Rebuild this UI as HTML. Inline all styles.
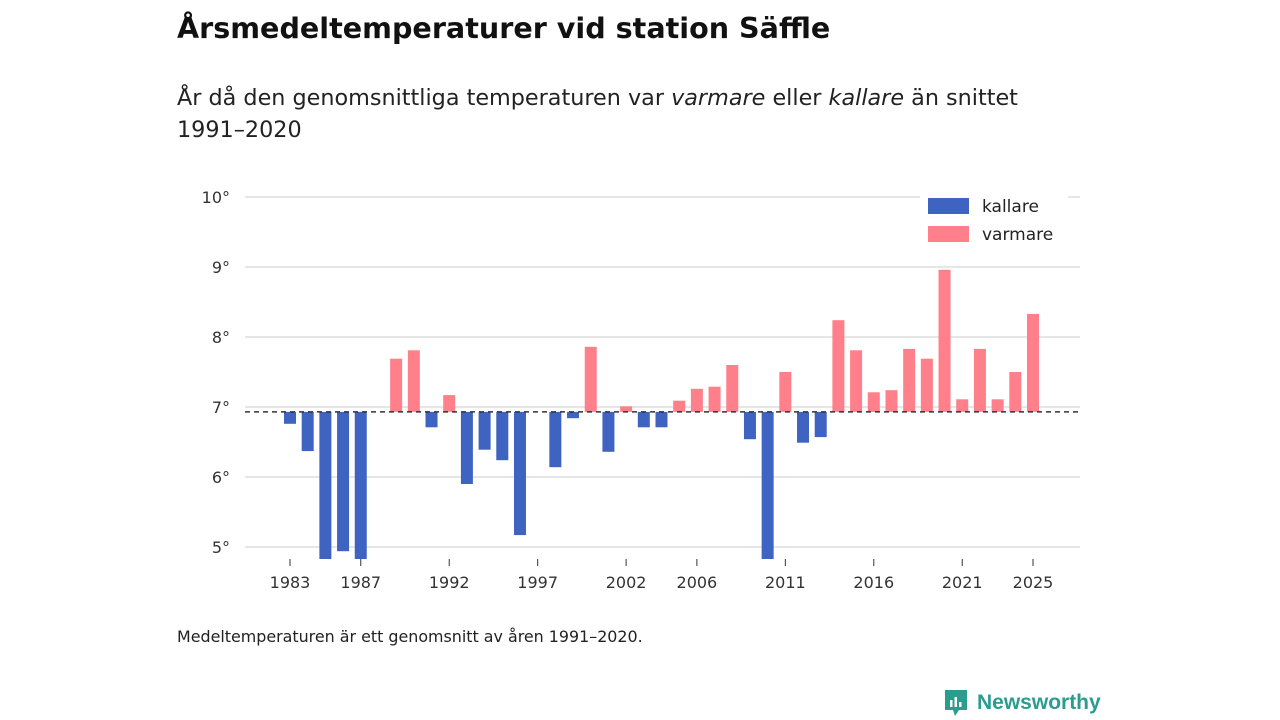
<!DOCTYPE html>
<html><head><meta charset="utf-8">
<style>
body{margin:0;width:1280px;height:720px;background:#fff;font-family:"DejaVu Sans","Liberation Sans",sans-serif;overflow:hidden;position:relative}
h1{position:absolute;left:177px;top:11px;margin:0;font-size:28.6px;font-weight:bold;color:#111}
.sub{position:absolute;left:177px;top:82px;font-size:22.3px;line-height:32px;color:#222;width:870px}
.note{position:absolute;left:177px;top:627px;font-size:15.9px;color:#222}
.logo{position:absolute;left:943px;top:688px;font-size:21px;font-weight:bold;color:#2a9d8f;display:flex;align-items:center;gap:8px;font-family:"Liberation Sans",sans-serif}
</style></head><body>
<h1>Årsmedeltemperaturer vid station Säffle</h1>
<div class="sub">År då den genomsnittliga temperaturen var <i>varmare</i> eller <i>kallare</i> än snittet 1991–2020</div>
<svg id="chart" width="1280" height="720" style="position:absolute;left:0;top:0;font-family:'DejaVu Sans',sans-serif"></svg>
<div class="note">Medeltemperaturen är ett genomsnitt av åren 1991–2020.</div>
<div class="logo"><svg width="26" height="30" viewBox="0 0 26 30"><path d="M2 2h22v20h-8l-4 6-2-6H2z" fill="#2a9d8f"/><rect x="7" y="12" width="2.5" height="7" fill="#fff"/><rect x="11.5" y="9" width="2.5" height="10" fill="#fff"/><rect x="16" y="14" width="2.5" height="5" fill="#fff"/></svg>Newsworthy</div>
<script>
const years=[1983,1984,1985,1986,1987,1988,1989,1990,1991,1992,1993,1994,1995,1996,1997,1998,1999,2000,2001,2002,2003,2004,2005,2006,2007,2008,2009,2010,2011,2012,2013,2014,2015,2016,2017,2018,2019,2020,2021,2022,2023,2024,2025];
const temps=[6.76,6.37,4.8,4.94,4.8,6.93,7.69,7.81,6.71,7.17,5.9,6.39,6.24,5.17,6.93,6.14,6.84,7.86,6.36,7.01,6.71,6.71,7.09,7.26,7.29,7.6,6.54,4.8,7.5,6.49,6.57,8.24,7.81,7.21,7.24,7.83,7.69,8.96,7.11,7.83,7.11,7.5,8.33];
const mean=6.93;
const yTicks=[5,6,7,8,9,10];
const xTicks=[1983,1987,1992,1997,2002,2006,2011,2016,2021,2025];
const NS="http://www.w3.org/2000/svg";
const svg=document.getElementById('chart');
const X=y=>290+(y-1983)*(1033-290)/42;
const Y=v=>407-(v-7)*70;
const L=245,R=1080,B=559;
function el(t,a,p){const e=document.createElementNS(NS,t);for(const k in a)e.setAttribute(k,a[k]);(p||svg).appendChild(e);return e;}
yTicks.forEach(t=>{
 const g=el('line',{x1:L,x2:R,y1:Y(t),y2:Y(t),stroke:'#ddd','stroke-width':1.5});
 
 
 const tx=el('text',{x:230,y:Y(t)+6,'text-anchor':'end','font-size':16,fill:'#333'});
 tx.textContent=t+'°';
 
 
});
xTicks.forEach(t=>{
 const l=el('line',{x1:X(t),x2:X(t),y1:B,y2:B+7,stroke:'#333'});
 
 
 const tx=el('text',{x:X(t),y:B+29,'text-anchor':'middle','font-size':16,fill:'#333'});
 tx.textContent=t;
 
 
});
years.forEach((yr,i)=>{
 const v=temps[i];
 let y1=Y(Math.max(v,mean)),y2=Math.min(Y(Math.min(v,mean)),B);
 const r=el('rect',{x:X(yr)-6,y:y1,width:12,height:Math.max(0,y2-y1),fill:v>=mean?'#ff7f8a':'#3f63c0'});
 
 
});
const ml=el('line',{x1:L,x2:R,y1:Y(mean),y2:Y(mean),stroke:'#333','stroke-width':1.5,'stroke-dasharray':'5,4'});


const lg=el('rect',{x:920,y:190,width:148,height:62,fill:'#fff'});


[['kallare','#3f63c0',206],['varmare','#ff7f8a',234]].forEach(([n,c,y])=>{
 const r=el('rect',{x:928,y:y-8,width:41,height:16,fill:c});
 
 
 const t=el('text',{x:982,y:y+6,'font-size':17,fill:'#222'});
 t.textContent=n;
 
 
});
</script>
</body></html>
